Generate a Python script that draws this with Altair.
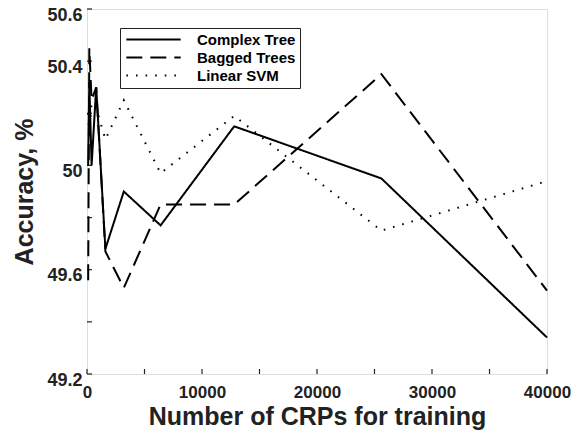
import altair as alt
import pandas as pd

# ---- data ----
crps = [100, 200, 400, 800, 1600, 3200, 6400, 12800, 25600, 40000]
complex_tree = [50.00, 50.32, 50.00, 50.30, 49.68, 49.90, 49.77, 50.15, 49.95, 49.34]
bagged_trees = [49.56, 50.45, 50.25, 50.30, 49.67, 49.53, 49.85, 49.85, 50.35, 49.52]
linear_svm = [50.20, 50.12, 50.24, 50.22, 50.10, 50.25, 49.97, 50.19, 49.75, 49.94]

series_names = ["Complex Tree", "Bagged Trees", "Linear SVM"]
y_label_values = [49.2, 49.6, 50.0, 50.4, 50.6]
y_tick_values = [49.2, 49.4, 49.6, 49.8, 50.0, 50.2, 50.4, 50.6]
x_label_values = [0, 10000, 20000, 30000, 40000]
x_tick_values = [0, 5000, 10000, 15000, 20000, 25000, 30000, 35000, 40000]

rows = []
for name, vals in zip(series_names, [complex_tree, bagged_trees, linear_svm]):
    for x, v in zip(crps, vals):
        rows.append({"crps": x, "acc": v, "model": name})
df = pd.DataFrame(rows)

FONT = "Liberation Sans"
W, H = 460, 365

xscale = alt.Scale(domain=[0, 40000], nice=False, zero=False)
yscale = alt.Scale(domain=[49.2, 50.6], nice=False, zero=False)

lines = alt.Chart(df).mark_line(color="black", strokeWidth=2).encode(
    x=alt.X("crps:Q", scale=xscale,
            axis=alt.Axis(values=x_label_values, title="Number of CRPs for training",
                          labelExpr="'' + datum.value",
                          tickSize=0, domain=False, grid=False, labelPadding=10,
                          labelFontSize=17, labelFont=FONT, labelFontWeight="bold",
                          titleFontSize=25, titleFont=FONT, titleFontWeight="bold",
                          titlePadding=4, labelColor="#222", titleColor="#222",
                          labelFlush=False, labelOverlap=False)),
    y=alt.Y("acc:Q", scale=yscale,
            axis=alt.Axis(values=y_label_values, title="Accuracy, %",
                          labelExpr="'' + datum.value",
                          tickSize=0, domain=False, grid=False, labelPadding=5,
                          labelOffset=6, labelOverlap=False,
                          labelFontSize=18, labelFont=FONT, labelFontWeight="bold",
                          titleFontSize=25, titleFont=FONT, titleFontWeight="bold",
                          titlePadding=9, labelColor="#222", titleColor="#222")),
    strokeDash=alt.StrokeDash(
        "model:N",
        scale=alt.Scale(domain=series_names, range=[[1, 0], [16, 8], [1.6, 8]]),
        legend=alt.Legend(
            title=None, orient="none", legendX=33, legendY=19,
            symbolType="M-5,0H5", symbolSize=118, symbolStrokeWidth=2,
            symbolStrokeColor="black", symbolFillColor="transparent",
            symbolOffset=22,
            labelFont=FONT, labelFontSize=15,
            labelFontWeight="bold", labelColor="black", labelOffset=36,
            labelExpr="datum.label + '\u00a0\u00a0\u00a0\u00a0'",
            rowPadding=2, padding=4, strokeColor="#222",
            fillColor="white",
        ),
    ),
    order=alt.Order("crps:Q"),
)

ytick_df = pd.DataFrame({"v": y_tick_values})
xtick_df = pd.DataFrame({"v": x_tick_values})

yticks = alt.Chart(ytick_df).mark_rule(color="#222", strokeWidth=1.2).encode(
    y=alt.Y("v:Q", scale=yscale), x=alt.value(0), x2=alt.value(5)
)
xticks = alt.Chart(xtick_df).mark_rule(color="#222", strokeWidth=1.2).encode(
    x=alt.X("v:Q", scale=xscale), y=alt.value(H), y2=alt.value(H - 5)
)

chart = alt.layer(yticks, xticks, lines).properties(
    width=W, height=H,
    autosize=alt.AutoSizeParams(type="none"),
    padding={"left": 87, "top": 9, "right": 24, "bottom": 60},
).configure_view(stroke="#262626", strokeWidth=3).configure(background="white")

chart.save("out.html", embed_options={"renderer": "svg", "actions": False})
